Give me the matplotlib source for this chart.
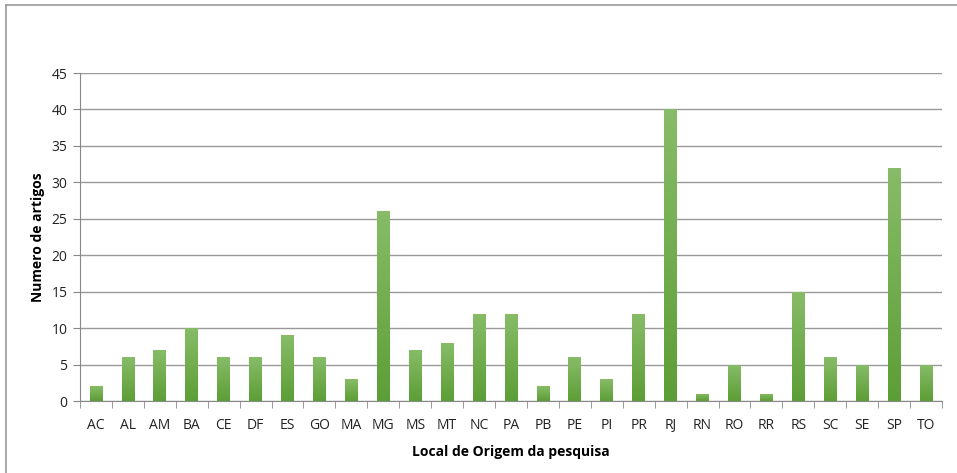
import matplotlib
matplotlib.use("Agg")
import matplotlib.pyplot as plt
import numpy as np
from matplotlib.colors import LinearSegmentedColormap
from matplotlib.lines import Line2D

categories = ["AC", "AL", "AM", "BA", "CE", "DF", "ES", "GO", "MA", "MG", "MS", "MT", "NC", "PA",
              "PB", "PE", "PI", "PR", "RJ", "RN", "RO", "RR", "RS", "SC", "SE", "SP", "TO"]
values = [2, 6, 7, 10, 6, 6, 9, 6, 3, 26, 7, 8, 12, 12, 2, 6, 3, 12, 40, 1, 5, 1, 15, 6, 5, 32, 5]
yticks = [0, 5, 10, 15, 20, 25, 30, 35, 40, 45]

plt.rcParams['font.family'] = ['Open Sans', 'DejaVu Sans']

W, H = 957, 473
fig = plt.figure(figsize=(W / 100, H / 100), dpi=100)
ax = fig.add_axes([80 / W, 1 - 401 / H, (942 - 80) / W, (401 - 73) / H])

x = np.arange(len(categories))
bars = ax.bar(x, values, width=0.4, color="#6aaa45", zorder=2)

cmap = LinearSegmentedColormap.from_list("g", ["#5c9e36", "#88bc68"])
grad = np.linspace(0, 1, 256).reshape(-1, 1)
for b in bars:
    x0, w, h = b.get_x(), b.get_width(), b.get_height()
    im = ax.imshow(grad, cmap=cmap, origin="lower", aspect="auto",
                   extent=[x0, x0 + w, 0, h], zorder=3)
    im.set_clip_path(b)

ax.set_xlim(-0.5, len(categories) - 0.5)
ax.set_ylim(0, 45)
ax.set_yticks(yticks)
ax.set_yticklabels([str(t) for t in yticks], fontsize=10, color="#222222")
ax.set_xticks(x)
ax.set_xticklabels(categories, fontsize=10, color="#222222")
ax.set_xticks(np.arange(len(categories) + 1) - 0.5, minor=True)
ax.tick_params(axis="x", which="major", length=0, pad=12)
ax.tick_params(axis="x", which="minor", length=5, color="#888888", direction="out")
ax.tick_params(axis="y", length=5, color="#888888", direction="out", pad=4)

ax.grid(axis="y", color="#999999", linewidth=1.0, zorder=0)
ax.set_axisbelow(True)
for s in ["top", "right"]:
    ax.spines[s].set_visible(False)
ax.spines["left"].set_color("#888888")
ax.spines["bottom"].set_color("#888888")

ax.set_xlabel("Local de Origem da pesquisa", fontsize=10, fontweight="bold", labelpad=9)
ax.set_ylabel("Numero de artigos", fontsize=10, fontweight="bold", labelpad=5)

# outer frame lines (left and top)
fig.add_artist(Line2D([6 / W, 6 / W], [0, 1 - 5 / H], transform=fig.transFigure, color="#999999", lw=1.2))
fig.add_artist(Line2D([6 / W, 1], [1 - 5 / H, 1 - 5 / H], transform=fig.transFigure, color="#999999", lw=1.2))

fig.savefig("out.png", dpi=100)
